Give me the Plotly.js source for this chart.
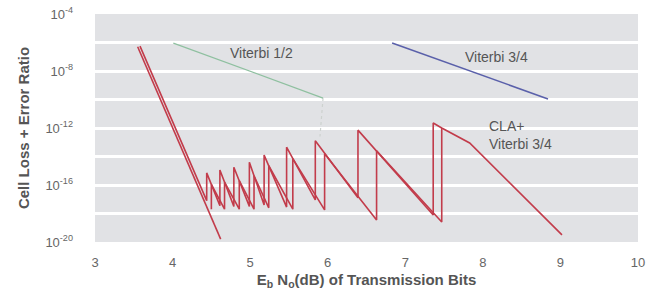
<!DOCTYPE html>
<html>
<head>
<meta charset="utf-8">
<script src="https://cdn.plot.ly/plotly-3.0.1.min.js"></script>
<style>html,body{margin:0;padding:0;background:#fff;}#chart{width:647px;height:293px;}</style>
</head>
<body>
<div id="chart"></div>
<script>
// Exponents (log10 of ratio)
const viterbiHalfX = [4.01, 5.94];
const viterbiHalfExp = [-6.04, -9.9];
const viterbiHalfTailX = [5.94, 5.90];
const viterbiHalfTailExp = [-9.9, -12.6];
const viterbi34X = [6.83, 8.84];
const viterbi34Exp = [-6.04, -9.96];
const claLimitX = [3.55, 4.62];
const claLimitExp = [-6.3, -19.8];
const claUpperX = [3.58, 4.44, 4.44, 4.61, 4.61, 4.79, 4.79, 4.99, 4.99, 5.18, 5.18, 5.47, 5.47, 5.84, 5.84, 6.39, 6.39, 7.36, 7.36, 7.47, 7.83, 9.02];
const claUpperExp = [-6.25, -17.1, -15.15, -17.45, -14.95, -17.5, -14.75, -17.5, -14.4, -17.4, -13.9, -17.55, -13.35, -17.05, -12.9, -16.9, -12.15, -18.1, -11.65, -12.0, -13.05, -19.5];
const claLowerX = [4.50, 4.50, 4.67, 4.67, 4.86, 4.86, 5.05, 5.05, 5.24, 5.24, 5.55, 5.55, 5.96, 5.96, 6.63, 6.63, 7.47, 7.47];
const claLowerExp = [-17.7, -15.96, -17.7, -15.8, -17.7, -15.7, -17.7, -15.35, -17.6, -14.65, -17.7, -14.15, -17.75, -13.8, -18.46, -13.6, -18.6, -12.0];
const yTickVals = [-20, -18, -16, -14, -12, -10, -8, -6, -4];
const yTickText = ['10<sup>-20</sup>', '', '10<sup>-16</sup>', '', '10<sup>-12</sup>', '', '10<sup>-8</sup>', '', '10<sup>-4</sup>'];
const xTickVals = [3, 4, 5, 6, 7, 8, 9, 10];

const red = '#c23c4b';
const traces = [
  {x: viterbiHalfTailX, y: viterbiHalfTailExp, mode: 'lines', line: {color: '#cdd2cf', width: 1.2, dash: 'dot'}},
  {x: viterbiHalfX, y: viterbiHalfExp, mode: 'lines', line: {color: '#8fc0a0', width: 1.2}},
  {x: viterbi34X, y: viterbi34Exp, mode: 'lines', line: {color: '#5a60aa', width: 1.5}},
  {x: claLimitX, y: claLimitExp, mode: 'lines', line: {color: red, width: 1.6}},
  {x: claUpperX, y: claUpperExp, mode: 'lines', line: {color: red, width: 1.6}},
  {x: claLowerX, y: claLowerExp, mode: 'lines', line: {color: red, width: 1.6}}
];

const font = 'Liberation Sans, Arial, sans-serif';
const layout = {
  width: 647, height: 293,
  margin: {l: 95, r: 9, t: 14, b: 51},
  paper_bgcolor: '#ffffff',
  plot_bgcolor: '#e1e2e5',
  showlegend: false,
  font: {family: font, size: 13, color: '#555'},
  xaxis: {
    range: [3, 10], tickvals: xTickVals, showgrid: false, zeroline: false, showline: false,
    ticks: '', ticklabelstandoff: 11, tickfont: {size: 13, color: '#666'},
    title: {text: 'E<sub>b</sub> N<sub>o</sub>(dB) of Transmission Bits', standoff: 5,
      font: {family: font, size: 15, color: '#555', weight: 'bold'}}
  },
  yaxis: {
    range: [-20, -4], tickvals: yTickVals, ticktext: yTickText,
    showgrid: true, gridcolor: '#ffffff', gridwidth: 3, zeroline: false, showline: false,
    ticks: '', ticklabelstandoff: 21, tickfont: {size: 13, color: '#666'},
    title: {text: 'Cell Loss + Error Ratio', standoff: 12,
      font: {family: font, size: 15, color: '#555', weight: 'bold'}}
  },
  annotations: [
    {x: 5.14, y: -6.74, text: 'Viterbi 1/2', showarrow: false, font: {size: 14, color: '#555'}},
    {x: 8.17, y: -7.02, text: 'Viterbi 3/4', showarrow: false, font: {size: 14, color: '#555'}},
    {x: 8.05, y: -12.5, text: 'CLA+<br>Viterbi 3/4', showarrow: false, xanchor: 'left', align: 'left', font: {size: 14, color: '#555'}}
  ]
};
Plotly.newPlot('chart', traces, layout, {displayModeBar: false, staticPlot: true});
</script>
</body>
</html>
